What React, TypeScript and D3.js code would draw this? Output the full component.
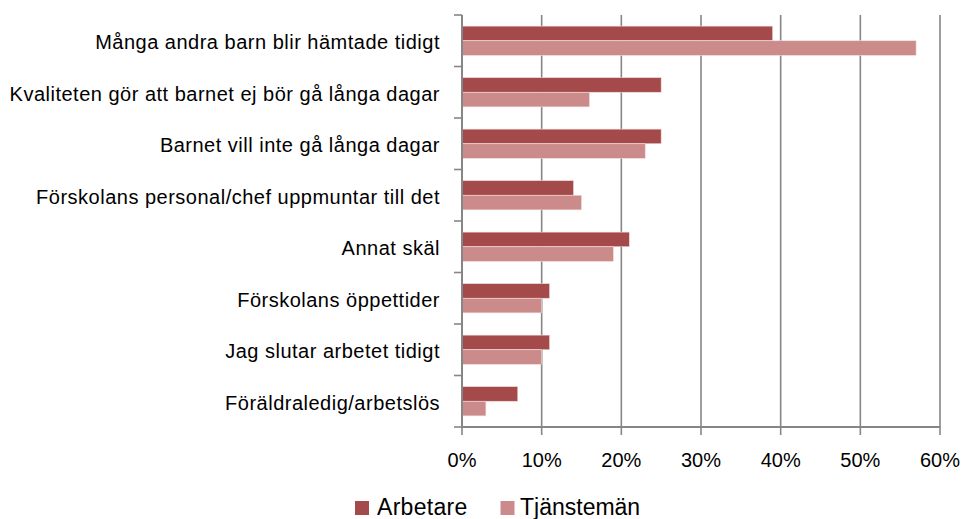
import React, { useEffect } from "react";
import * as d3 from "d3";

const categories = [
  "Många andra barn blir hämtade tidigt",
  "Kvaliteten gör att barnet ej bör gå långa dagar",
  "Barnet vill inte gå långa dagar",
  "Förskolans personal/chef uppmuntar till det",
  "Annat skäl",
  "Förskolans öppettider",
  "Jag slutar arbetet tidigt",
  "Föräldraledig/arbetslös",
];
const seriesNames = ["Arbetare", "Tjänstemän"];
const arbetare = [39, 25, 25, 14, 21, 11, 11, 7];
const tjanstemen = [57, 16, 23, 15, 19, 10, 10, 3];
const xTicks = [0, 10, 20, 30, 40, 50, 60];
const colors = ["#A44A4A", "#CB8B8B"];

const W = 969;
const H = 519;
const FONT = "'Liberation Sans', Arial, sans-serif";

export default function App() {
  useEffect(() => {
    document.body.style.margin = "0";
  }, []);

  const x = d3.scaleLinear().domain([0, 60]).range([462, 940]);
  const y = d3.scaleBand<string>().domain(categories).range([15, 427]).paddingInner(0).paddingOuter(0);
  const ySub = d3.scaleBand<string>().domain(seriesNames).range([0, y.bandwidth()]).paddingInner(0).paddingOuter(0.76);
  const values = [arbetare, tjanstemen];
  const grid = "#868686";

  const yTickPositions = categories.map((c) => y(c) as number).concat([427]);

  return (
    <svg width={W} height={H} style={{ display: "block", background: "#fff" }}>
      {xTicks.slice(1).map((t) => (
        <line key={"g" + t} x1={x(t)} x2={x(t)} y1={15} y2={427} stroke={grid} strokeWidth={1.6} />
      ))}
      {values.map((vals, si) =>
        vals.map((v, i) => (
          <rect
            key={si + "-" + i}
            x={x(0)}
            y={(y(categories[i]) as number) + (ySub(seriesNames[si]) as number)}
            width={x(v) - x(0)}
            height={ySub.bandwidth()}
            fill={colors[si]}
            stroke="#F2DCDC"
            strokeWidth={0.6}
          />
        ))
      )}
      <line x1={x(0)} x2={x(0)} y1={15} y2={428} stroke={grid} strokeWidth={2} />
      {yTickPositions.map((p, i) => (
        <line key={"yt" + i} x1={x(0) - 8} x2={x(0)} y1={p} y2={p} stroke={grid} strokeWidth={1.6} />
      ))}
      <line x1={x(0) - 1} x2={x(60)} y1={427} y2={427} stroke={grid} strokeWidth={2} />
      {xTicks.map((t) => (
        <line key={"xt" + t} x1={x(t)} x2={x(t)} y1={427} y2={435} stroke={grid} strokeWidth={1.6} />
      ))}
      {xTicks.map((t) => (
        <text key={"xl" + t} x={x(t)} y={466.5} textAnchor="middle" fontFamily={FONT} fontSize={20} fill="#000">
          {t + "%"}
        </text>
      ))}
      {categories.map((c) => (
        <text
          key={c}
          x={440}
          y={(y(c) as number) + y.bandwidth() / 2 + 8.3}
          textAnchor="end"
          fontFamily={FONT}
          fontSize={20}
          letterSpacing={0.5}
          fill="#000"
        >
          {c}
        </text>
      ))}
      <g>
        <rect x={355} y={501} width={14} height={14} fill={colors[0]} />
        <text x={377} y={515} fontFamily={FONT} fontSize={23} letterSpacing={0.3} fill="#000">{seriesNames[0]}</text>
        <rect x={500.5} y={501} width={14} height={14} fill={colors[1]} />
        <text x={520} y={515} fontFamily={FONT} fontSize={23} fill="#000">{seriesNames[1]}</text>
      </g>
    </svg>
  );
}
